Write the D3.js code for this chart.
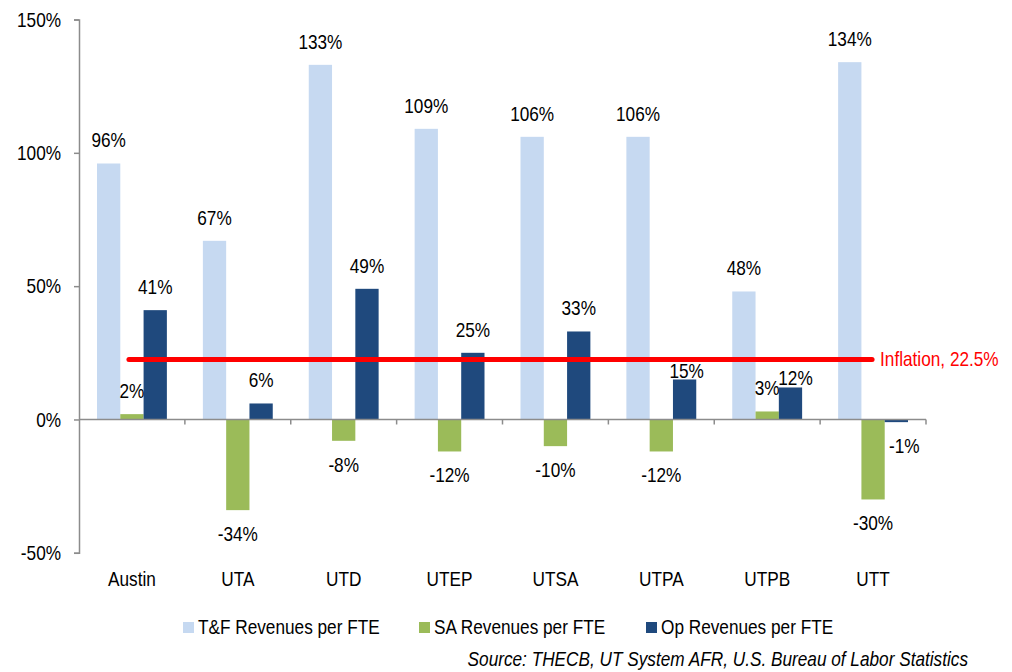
<!DOCTYPE html>
<html>
<head>
<meta charset="utf-8">
<script src="https://cdn.jsdelivr.net/npm/d3@7"></script>
<style>
    body { margin: 0; background: #fff; }
    svg text { font-family: "Liberation Sans", Arial, sans-serif; fill: #000; }
</style>
</head>
<body>
<svg id="chart" width="1012" height="672"></svg>
<script>
const campuses = ["Austin", "UTA", "UTD", "UTEP", "UTSA", "UTPA", "UTPB", "UTT"]
const seriesNames = ["T&F Revenues per FTE", "SA Revenues per FTE", "Op Revenues per FTE"]
const tfValues = [96, 67, 133, 109, 106, 106, 48, 134]
const saValues = [2, -34, -8, -12, -10, -12, 3, -30]
const opValues = [41, 6, 49, 25, 33, 15, 12, -1]
const inflation = 22.5
const yTicks = [-50, 0, 50, 100, 150]

const seriesColors = ["#c6d9f1", "#9bbb59", "#1f497d"]

// a few labels were hand-moved in the original
const labelNudge = {
    "UTPA-2": { dx: 2, dy: 15 },
    "UTPB-2": { dx: 5, dy: 14 },
    "UTT-2": { dx: 8, dy: 0 }
}

// no Arial Narrow here, so squeeze the regular face
const narrowScale = 0.82

const svg = d3.select("#chart")

const y = d3.scaleLinear()
    .domain([-50, 150])
    .range([552.8, 19.5])

const x0 = d3.scaleBand()
    .domain(campuses)
    .range([79, 926])
    .paddingInner(0.34)
    .paddingOuter(0.17)

const x1 = d3.scaleBand()
    .domain(d3.range(seriesNames.length))
    .range([0, x0.bandwidth()])

const allValues = [tfValues, saValues, opValues]
const bars = []
campuses.forEach((c, i) => {
    allValues.forEach((vals, s) => {
        bars.push({ campus: c, series: s, value: vals[i] })
    })
})

// y axis
const yAxisG = svg.append("g")
    .attr("transform", "translate(79,0)")
    .call(d3.axisLeft(y)
        .tickValues(yTicks)
        .tickSize(5)
        .tickPadding(13)
        .tickFormat(d => d + "%"))
yAxisG.select(".domain").attr("stroke", "#8c8c8c").attr("stroke-width", 1.5)
yAxisG.selectAll(".tick line").attr("stroke", "#8c8c8c").attr("stroke-width", 1.5)
yAxisG.selectAll(".tick text")
    .attr("font-size", 21)
    .attr("font-family", null)

// bars
svg.append("g")
    .selectAll("rect")
    .data(bars)
    .join("rect")
    .attr("x", d => x0(d.campus) + x1(d.series))
    .attr("width", x1.bandwidth())
    .attr("y", d => y(Math.max(0, d.value)))
    .attr("height", d => Math.abs(y(d.value) - y(0)))
    .attr("fill", d => seriesColors[d.series])

// x axis at zero
const xAxisG = svg.append("g")
    .attr("transform", "translate(0," + y(0) + ")")
xAxisG.append("line")
    .attr("x1", 79)
    .attr("x2", x0.range()[1])
    .attr("stroke", "#8c8c8c")
    .attr("stroke-width", 1.5)
xAxisG.selectAll(".xtick")
    .data(campuses)
    .join("line")
    .attr("class", "xtick")
    .attr("x1", d => x0(d) + x0.bandwidth() + x0.step() * x0.paddingInner() / 2)
    .attr("x2", d => x0(d) + x0.bandwidth() + x0.step() * x0.paddingInner() / 2)
    .attr("y1", 0)
    .attr("y2", 5)
    .attr("stroke", "#8c8c8c")
    .attr("stroke-width", 1.5)

// category labels
svg.append("g")
    .selectAll("text")
    .data(campuses)
    .join("text")
    .attr("x", d => x0(d) + x0.bandwidth() / 2)
    .attr("y", 586)
    .attr("text-anchor", "middle")
    .attr("font-size", 21)
    .text(d => d)

// inflation line
svg.append("line")
    .attr("x1", x0(campuses[0]) + x0.bandwidth() / 2 - 3)
    .attr("x2", x0(campuses[campuses.length - 1]) + x0.bandwidth() / 2 - 1)
    .attr("y1", y(inflation))
    .attr("y2", y(inflation))
    .attr("stroke", "#ff0000")
    .attr("stroke-width", 5)
    .attr("stroke-linecap", "round")

svg.append("text")
    .attr("x", x0(campuses[campuses.length - 1]) + x0.bandwidth() / 2 + 7)
    .attr("y", y(inflation) + 7)
    .attr("font-size", 21)
    .style("fill", "#ff0000")
    .text("Inflation, " + inflation + "%")

// value labels
svg.append("g")
    .selectAll("text")
    .data(bars)
    .join("text")
    .attr("x", d => {
        const n = labelNudge[d.campus + "-" + d.series]
        return x0(d.campus) + x1(d.series) + x1.bandwidth() / 2 + (n ? n.dx : 0)
    })
    .attr("y", d => {
        const n = labelNudge[d.campus + "-" + d.series]
        const base = d.value >= 0 ? y(d.value) - 16 : y(d.value) + 31
        return base + (n ? n.dy : 0)
    })
    .attr("text-anchor", "middle")
    .attr("font-size", 21)
    .text(d => d.value + "%")

// legend
const legendX = [183, 419, 646]
const legendG = svg.append("g")
    .selectAll("g")
    .data(seriesNames)
    .join("g")
    .attr("transform", (d, i) => "translate(" + legendX[i] + ",622)")
legendG.append("rect")
    .attr("width", 11)
    .attr("height", 11)
    .attr("fill", (d, i) => seriesColors[i])
legendG.append("text")
    .attr("x", 15)
    .attr("y", 12)
    .attr("font-size", 21)
    .text(d => d)

// source note
svg.append("text")
    .attr("x", 968)
    .attr("y", 666)
    .attr("text-anchor", "end")
    .attr("font-size", 21)
    .attr("font-style", "italic")
    .text("Source: THECB, UT System AFR, U.S. Bureau of Labor Statistics")

// squeeze every text around its anchor point
svg.selectAll("text").each(function () {
    const t = d3.select(this)
    const tx = +t.attr("x") || 0
    const ty = +t.attr("y") || 0
    t.attr("x", 0).attr("y", 0)
        .attr("transform", "translate(" + tx + "," + ty + ") scale(" + narrowScale + ",1)")
})
</script>
</body>
</html>
